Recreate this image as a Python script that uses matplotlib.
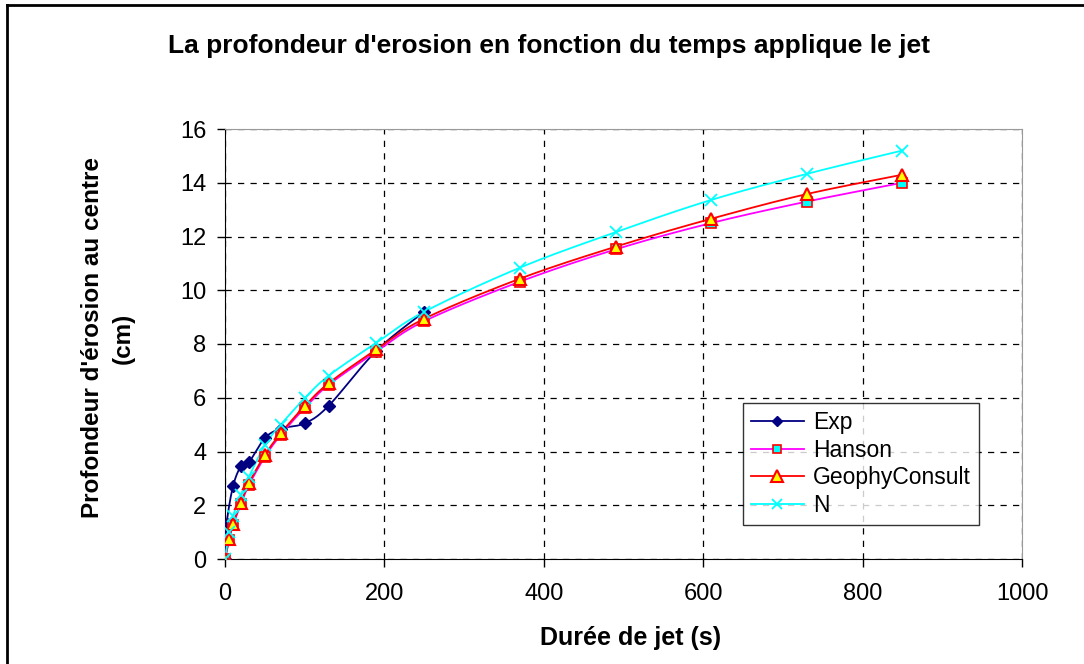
import numpy as np
import matplotlib
matplotlib.use("Agg")
import matplotlib.pyplot as plt
from matplotlib.lines import Line2D

plt.rcParams["font.family"] = ["Liberation Sans", "DejaVu Sans"]

# data
t_exp = [0, 2, 10, 20, 30, 50, 70, 100, 130, 190, 250]
exp_depth = [0, 1.3, 2.7, 3.45, 3.6, 4.5, 4.85, 5.05, 5.7, 7.75, 9.2]

t_model = [0, 5, 10, 20, 30, 50, 70, 100, 130, 190, 250, 370, 490, 610, 730, 850]
hanson = [0, 0.7, 1.25, 2.05, 2.75, 3.8, 4.62, 5.62, 6.48, 7.72, 8.85, 10.32, 11.52, 12.5, 13.3, 14.0]
geophy = [0, 0.73, 1.3, 2.1, 2.82, 3.87, 4.68, 5.69, 6.54, 7.8, 8.94, 10.43, 11.62, 12.66, 13.58, 14.3]
n_model = [0, 1.0, 1.6, 2.4, 3.06, 4.24, 5.0, 5.98, 6.82, 8.05, 9.2, 10.84, 12.16, 13.36, 14.33, 15.2]


def smooth(x, y, n=20):
    # Catmull-Rom style smoothing, like the "smoothed line" option of the source
    x = np.asarray(x, float)
    y = np.asarray(y, float)
    px = np.concatenate([[x[0]], x, [x[-1]]])
    py = np.concatenate([[y[0]], y, [y[-1]]])
    xs, ys = [], []
    for i in range(1, len(px) - 2):
        s = np.linspace(0, 1, n, endpoint=False)
        for p, out in ((px, xs), (py, ys)):
            p0, p1, p2, p3 = p[i - 1], p[i], p[i + 1], p[i + 2]
            out.extend(0.5 * ((2 * p1) + (-p0 + p2) * s
                              + (2 * p0 - 5 * p1 + 4 * p2 - p3) * s ** 2
                              + (-p0 + 3 * p1 - 3 * p2 + p3) * s ** 3))
    xs.append(x[-1])
    ys.append(y[-1])
    return xs, ys


fig = plt.figure(figsize=(10.84, 6.64), dpi=100)
ax = fig.add_axes([225 / 1084, 1 - 559 / 664, 797 / 1084, 430 / 664])

series = [
    ("Exp", t_exp, exp_depth, dict(color="#000080", marker="D", ms=6,
                                    mfc="#000080", mec="#000080", mew=1)),
    ("Hanson", t_model, hanson, dict(color="#ff00ff", marker="s", ms=7,
                                      mfc="#00ffff", mec="#ff0000", mew=1.2)),
    ("GeophyConsult", t_model, geophy, dict(color="#ff0000", marker="^", ms=9,
                                            mfc="#ffff00", mec="#ff0000", mew=1.5)),
    ("N", t_model, n_model, dict(color="#00ffff", marker="x", ms=8,
                                 mfc="#00ffff", mec="#00ffff", mew=1.3)),
]

handles = []
for name, xs, ys, st in series:
    sx, sy = smooth(xs, ys)
    ax.plot(sx, sy, color=st["color"], lw=1.3, zorder=3)
    ax.plot(xs, ys, ls="none", marker=st["marker"], ms=st["ms"],
            mfc=st["mfc"], mec=st["mec"], mew=st["mew"], zorder=4)
    handles.append(Line2D([], [], color=st["color"], lw=1.3, marker=st["marker"],
                          ms=st["ms"] - 1, mfc=st["mfc"], mec=st["mec"], mew=st["mew"]))

ax.set_xlim(0, 1000)
ax.set_ylim(0, 16)
ax.set_xticks(np.arange(0, 1001, 200))
ax.set_yticks(np.arange(0, 17, 2))
ax.grid(True, color="black", ls=(0, (5, 5)), lw=0.9)
ax.tick_params(direction="out", length=5.5, width=1, labelsize=17, colors="black")
ax.tick_params(axis="x", pad=12)
ax.tick_params(axis="y", pad=8)
ax.spines["left"].set_color("black")
ax.spines["bottom"].set_color("black")
ax.spines["top"].set_color("#999999")
ax.spines["right"].set_color("#999999")

ax.set_xlabel("Durée de jet (s)", fontsize=18, fontweight="bold", va="top")
ax.xaxis.set_label_coords(0.509, -0.156)
ax.set_ylabel("Profondeur d'érosion au centre\n(cm)", fontsize=17.5,
              fontweight="bold", linespacing=1.45)
ax.yaxis.set_label_coords(-0.113, 0.514)
fig.text(0.506, 1 - 46 / 664, "La profondeur d'erosion en fonction du temps applique le jet",
         ha="center", va="center", fontsize=19, fontweight="bold")

leg = ax.legend(handles, [s[0] for s in series], loc="lower left",
                bbox_to_anchor=((743 - 225) / 797, (559 - 525) / 430), fontsize=16.5,
                frameon=True, fancybox=False, edgecolor="black",
                handlelength=2.3, borderpad=0.35, labelspacing=0.2,
                handletextpad=0.4, borderaxespad=0)
leg.get_frame().set_linewidth(1)

fig.add_artist(Line2D([7 / 1084, 7 / 1084], [0, 1 - 5 / 664], color="black", lw=2,
                      transform=fig.transFigure))
fig.add_artist(Line2D([7 / 1084, 1], [1 - 5 / 664, 1 - 5 / 664], color="black", lw=2,
                      transform=fig.transFigure))

fig.savefig("out.png", dpi=100)
